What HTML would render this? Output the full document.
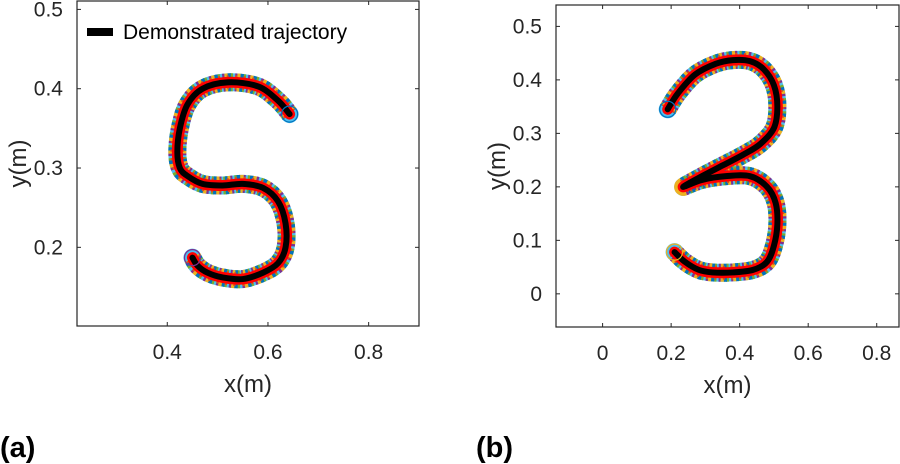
<!DOCTYPE html>
<html><head><meta charset="utf-8"><style>
html,body{margin:0;padding:0;background:#fff;}
svg{display:block;font-family:"Liberation Sans",sans-serif;}
.tick{font-size:21px;fill:#262626;}
.lab{font-size:24px;fill:#262626;}
</style></head><body>
<svg id="chart" width="900" height="464" viewBox="0 0 900 464">
<g id="pa"></g>
<g id="pb"></g>
<text x="0" y="457" font-size="29" font-weight="bold" fill="#000">(a)</text>
<text x="476" y="457" font-size="29" font-weight="bold" fill="#000">(b)</text>
</svg>
<script>
const sX = [0.643,0.62,0.58,0.52,0.47,0.44,0.425,0.42,0.425,0.44,0.47,0.51,0.55,0.59,0.62,0.635,0.635,0.62,0.59,0.55,0.51,0.48,0.46,0.45];
const sY = [0.368,0.385,0.403,0.408,0.4,0.38,0.35,0.32,0.3,0.29,0.28,0.278,0.28,0.275,0.258,0.23,0.2,0.18,0.168,0.16,0.162,0.168,0.177,0.187];
const tX = [0.19,0.22,0.27,0.33,0.38,0.43,0.47,0.5,0.51,0.5,0.46,0.41,0.35,0.29,0.235,0.29,0.36,0.43,0.48,0.505,0.51,0.5,0.48,0.44,0.38,0.32,0.28,0.24,0.21];
const tY = [0.345,0.375,0.41,0.43,0.437,0.435,0.42,0.39,0.35,0.31,0.28,0.26,0.24,0.22,0.2,0.213,0.22,0.22,0.2,0.17,0.13,0.09,0.06,0.045,0.04,0.04,0.045,0.06,0.078];
const aXT = [0.4,0.6,0.8], aYT = [0.2,0.3,0.4,0.5];
const bXT = [0,0.2,0.4,0.6,0.8], bYT = [0,0.1,0.2,0.3,0.4,0.5];
const NS="http://www.w3.org/2000/svg";
function mk(p,t,a){const e=document.createElementNS(NS,t);for(const k in a)e.setAttribute(k,a[k]);p.appendChild(e);return e;}
function smooth(pts){let d="M"+pts[0][0]+","+pts[0][1];for(let i=0;i<pts.length-1;i++){const p0=pts[i-1]||pts[i],p1=pts[i],p2=pts[i+1],p3=pts[i+2]||p2;
d+=" C"+(p1[0]+(p2[0]-p0[0])/6)+","+(p1[1]+(p2[1]-p0[1])/6)+" "+(p2[0]-(p3[0]-p1[0])/6)+","+(p2[1]-(p3[1]-p1[1])/6)+" "+p2[0]+","+p2[1];}return d;}
function panel(g,box,xr,yr,xt,yt,xs,ys,startC,endC){
 const X=v=>box[0]+(v-xr[0])/(xr[1]-xr[0])*(box[2]-box[0]);
 const Y=v=>box[3]-(v-yr[0])/(yr[1]-yr[0])*(box[3]-box[1]);
 const r=mk(g,"rect",{x:box[0],y:box[1],width:box[2]-box[0],height:box[3]-box[1],fill:"#fff",stroke:"#262626","stroke-width":1.2});
 
 
 xt.forEach(v=>{const x=X(v);mk(g,"line",{x1:x,x2:x,y1:box[3],y2:box[3]-4,stroke:"#262626"});mk(g,"line",{x1:x,x2:x,y1:box[1],y2:box[1]+4,stroke:"#262626"});
  const t=mk(g,"text",{x:x,y:box[3]+33,"text-anchor":"middle",class:"tick"});t.textContent=(v===0?"0":v.toFixed(1));
  
  });
 yt.forEach(v=>{const y=Y(v);mk(g,"line",{x1:box[0],x2:box[0]+4,y1:y,y2:y,stroke:"#262626"});mk(g,"line",{x1:box[2],x2:box[2]-4,y1:y,y2:y,stroke:"#262626"});
  const t=mk(g,"text",{x:box[0]-14,y:y+7,"text-anchor":"end",class:"tick"});t.textContent=(v===0?"0":v.toFixed(1));
  
  });
 const pts=xs.map((v,i)=>[X(v),Y(ys[i])]);const d=smooth(pts);
 const band=mk(g,"g",{fill:"none","stroke-linecap":"round","stroke-linejoin":"round"});
 
 
 mk(band,"path",{d:d,stroke:"#4DBEEE","stroke-width":18});
 [["#EDB120","4 8",0],["#77AC30","3 9",4],["#7E2F8E","2 10",8],["#0072BD","3 9",2]].forEach(c=>mk(band,"path",{d:d,stroke:c[0],"stroke-width":18,"stroke-dasharray":c[1],"stroke-dashoffset":c[2],"stroke-linecap":"butt"}));
 mk(band,"path",{d:d,stroke:"#D95319","stroke-width":14,"stroke-dasharray":"2 6","stroke-linecap":"butt"});
 mk(band,"path",{d:d,stroke:"#ff0000","stroke-width":11});
 const ln=mk(g,"path",{d:d,fill:"none",stroke:"#000","stroke-width":6,"stroke-linejoin":"round","stroke-linecap":"round"});
 
 
 const c1=mk(g,"circle",{cx:pts[0][0],cy:pts[0][1],r:8,fill:"none",stroke:startC,"stroke-width":1.2});
 
 
 const e=pts[pts.length-1];const c2=mk(g,"circle",{cx:e[0],cy:e[1],r:8,fill:"none",stroke:endC,"stroke-width":1.2});
 
 
 const xl=mk(g,"text",{x:(box[0]+box[2])/2,y:box[3]+66,"text-anchor":"middle",class:"lab"});xl.textContent="x(m)";
 
 
 const yx=box[0]-51,yc=(box[1]+box[3])/2;
 const yl=mk(g,"text",{x:yx,y:yc,"text-anchor":"middle",class:"lab",transform:"rotate(-90 "+yx+" "+yc+")"});yl.textContent="y(m)";
 
 
}
const pa=document.getElementById("pa"),pb=document.getElementById("pb");
panel(pa,[77,1,419,326],[0.2207,0.9],[0.1008,0.5106],aXT,aYT,sX,sY,"#0072BD","#7E2F8E");
panel(pb,[556,5,899,327],[-0.136,0.865],[-0.062,0.54],bXT,bYT,tX,tY,"#0072BD","#EDB120");
const lg=mk(pa,"g",{});


mk(lg,"line",{x1:87,x2:113,y1:32,y2:32,stroke:"#000","stroke-width":8});
const lt=mk(lg,"text",{x:123,y:39,"font-size":"21",fill:"#000"});lt.textContent="Demonstrated trajectory";


</script>
</body></html>
